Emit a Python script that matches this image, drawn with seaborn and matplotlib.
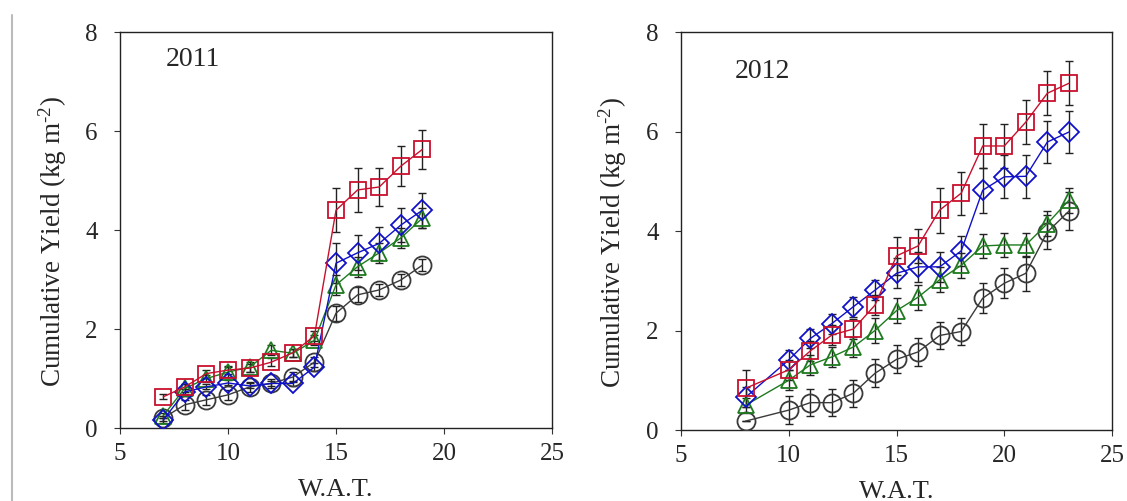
import matplotlib
matplotlib.use('Agg')
import matplotlib.pyplot as plt
import pandas as pd
import seaborn as sns
from matplotlib.lines import Line2D

# Data (weeks after transplanting, cumulative yield kg m-2)
weeks_2011 = [7, 8, 9, 10, 11, 12, 13, 14, 15, 16, 17, 18, 19]
red_2011 = [0.63, 0.83, 1.10, 1.17, 1.21, 1.33, 1.52, 1.86, 4.40, 4.81, 4.87, 5.29, 5.63]
red_err_2011 = [0.05, 0.05, 0.08, 0.08, 0.08, 0.08, 0.08, 0.10, 0.44, 0.44, 0.39, 0.40, 0.39]
blue_2011 = [0.16, 0.73, 0.83, 0.91, 0.85, 0.90, 0.90, 1.23, 3.33, 3.54, 3.73, 4.10, 4.40]
blue_err_2011 = [0.05, 0.05, 0.05, 0.05, 0.05, 0.05, 0.05, 0.08, 0.40, 0.35, 0.33, 0.35, 0.35]
green_2011 = [0.25, 0.80, 1.00, 1.13, 1.23, 1.57, 1.51, 1.77, 2.89, 3.26, 3.54, 3.84, 4.24]
green_err_2011 = [0.05, 0.08, 0.08, 0.10, 0.10, 0.10, 0.08, 0.10, 0.20, 0.20, 0.20, 0.20, 0.20]
black_2011 = [0.20, 0.47, 0.57, 0.67, 0.83, 0.90, 1.03, 1.33, 2.32, 2.69, 2.79, 2.99, 3.29]
black_err_2011 = [0.05, 0.10, 0.10, 0.10, 0.10, 0.10, 0.10, 0.10, 0.15, 0.15, 0.12, 0.12, 0.12]

weeks_2012 = [8, 10, 11, 12, 13, 14, 15, 16, 17, 18, 19, 20, 21, 22, 23]
red_2012 = [0.84, 1.21, 1.59, 1.91, 2.03, 2.51, 3.50, 3.70, 4.42, 4.76, 5.71, 5.71, 6.19, 6.77, 6.97]
red_err_2012 = [0.37, 0.20, 0.20, 0.20, 0.20, 0.20, 0.38, 0.35, 0.45, 0.43, 0.45, 0.45, 0.44, 0.44, 0.44]
blue_2012 = [0.66, 1.41, 1.84, 2.14, 2.48, 2.81, 3.15, 3.28, 3.28, 3.60, 4.82, 5.09, 5.10, 5.79, 5.99]
blue_err_2012 = [0.20, 0.20, 0.20, 0.20, 0.20, 0.20, 0.30, 0.30, 0.30, 0.30, 0.45, 0.43, 0.43, 0.43, 0.43]
green_2012 = [0.50, 1.00, 1.31, 1.47, 1.67, 2.00, 2.40, 2.67, 3.02, 3.31, 3.70, 3.72, 3.72, 4.15, 4.62]
green_err_2012 = [0.15, 0.20, 0.20, 0.20, 0.20, 0.25, 0.25, 0.25, 0.25, 0.25, 0.25, 0.25, 0.25, 0.25, 0.25]
black_2012 = [0.18, 0.40, 0.55, 0.55, 0.74, 1.14, 1.42, 1.57, 1.90, 1.98, 2.65, 2.95, 3.15, 3.98, 4.40]
black_err_2012 = [0.00, 0.28, 0.27, 0.27, 0.27, 0.28, 0.28, 0.28, 0.28, 0.28, 0.30, 0.30, 0.35, 0.35, 0.38]

series = ['black', 'green', 'blue', 'red']
colors = {'black': '#3a3a3a', 'green': '#1e7a1e', 'blue': '#1010c8', 'red': '#c8102e'}
markers = {'black': 'o', 'green': '^', 'blue': 'D', 'red': 's'}
msizes = {'black': 13, 'green': 11, 'blue': 10, 'red': 12}


def long_form(weeks, vals, errs):
    rows = []
    for name in series:
        for w, v, e in zip(weeks, vals[name], errs[name]):
            rows.append({'week': w, 'yield': v, 'err': e, 'trt': name})
    return pd.DataFrame(rows)


df_2011 = long_form(weeks_2011,
                    {'black': black_2011, 'green': green_2011, 'blue': blue_2011, 'red': red_2011},
                    {'black': black_err_2011, 'green': green_err_2011, 'blue': blue_err_2011, 'red': red_err_2011})
df_2012 = long_form(weeks_2012,
                    {'black': black_2012, 'green': green_2012, 'blue': blue_2012, 'red': red_2012},
                    {'black': black_err_2012, 'green': green_err_2012, 'blue': blue_err_2012, 'red': red_err_2012})

sns.set_style('ticks')
plt.rcParams['font.family'] = ['Liberation Serif', 'DejaVu Serif']
plt.rcParams['mathtext.fontset'] = 'custom'
plt.rcParams['mathtext.rm'] = 'Liberation Serif'
plt.rcParams['mathtext.it'] = 'Liberation Serif:italic'

fig = plt.figure(figsize=(11.27, 5.01), dpi=100)
ax1 = fig.add_axes([0.1065, 0.1457, 0.3833, 0.7903])
ax2 = fig.add_axes([0.6043, 0.1417, 0.3824, 0.7943])


def draw_panel(ax, df, year, label_pos, ylab_x):
    # error bars first, then lines with hollow markers on top
    for name in series:
        d = df[df['trt'] == name]
        ax.errorbar(d['week'], d['yield'], yerr=d['err'], fmt='none',
                    ecolor='#222222', elinewidth=1.0, capsize=3, capthick=1.0, zorder=2)
    for name in series:
        d = df[df['trt'] == name]
        sns.lineplot(data=d, x='week', y='yield', ax=ax, color=colors[name],
                     marker=markers[name], markersize=msizes[name],
                     markerfacecolor='none', markeredgecolor=colors[name],
                     markeredgewidth=1.3, linewidth=1.0, legend=False, zorder=3)
    ax.set_xlim(5, 25)
    ax.set_ylim(0, 8)
    ax.set_xticks([5, 10, 15, 20, 25])
    ax.set_yticks([0, 2, 4, 6, 8])
    ax.tick_params(axis='both', labelsize=18, direction='out', length=4,
                   width=0.8, color='#333333', top=False, right=False)
    ax.tick_params(axis='x', pad=7)
    ax.tick_params(axis='y', pad=12)
    for s in ax.spines.values():
        s.set_visible(True)
        s.set_linewidth(1.0)
        s.set_color('#222222')
    ax.set_xlabel('W.A.T.', fontsize=19, labelpad=10)
    ax.set_ylabel(r'Cumulative Yield (kg m$^{\text{-2}}$)', fontsize=19.5)
    ax.yaxis.set_label_coords(ylab_x, 0.47)
    ax.text(label_pos[0], label_pos[1], year, transform=ax.transAxes,
            fontsize=20, ha='left', va='center')


draw_panel(ax1, df_2011, '2011', (0.105, 0.93), -0.118)
draw_panel(ax2, df_2012, '2012', (0.125, 0.90), -0.121)

# thin grey border line at the far left of the original image
fig.add_artist(Line2D([12 / 1127, 12 / 1127], [0, 0.97], transform=fig.transFigure,
                      color='#bbbbbb', linewidth=1.5))

fig.savefig('out.png', dpi=100)
